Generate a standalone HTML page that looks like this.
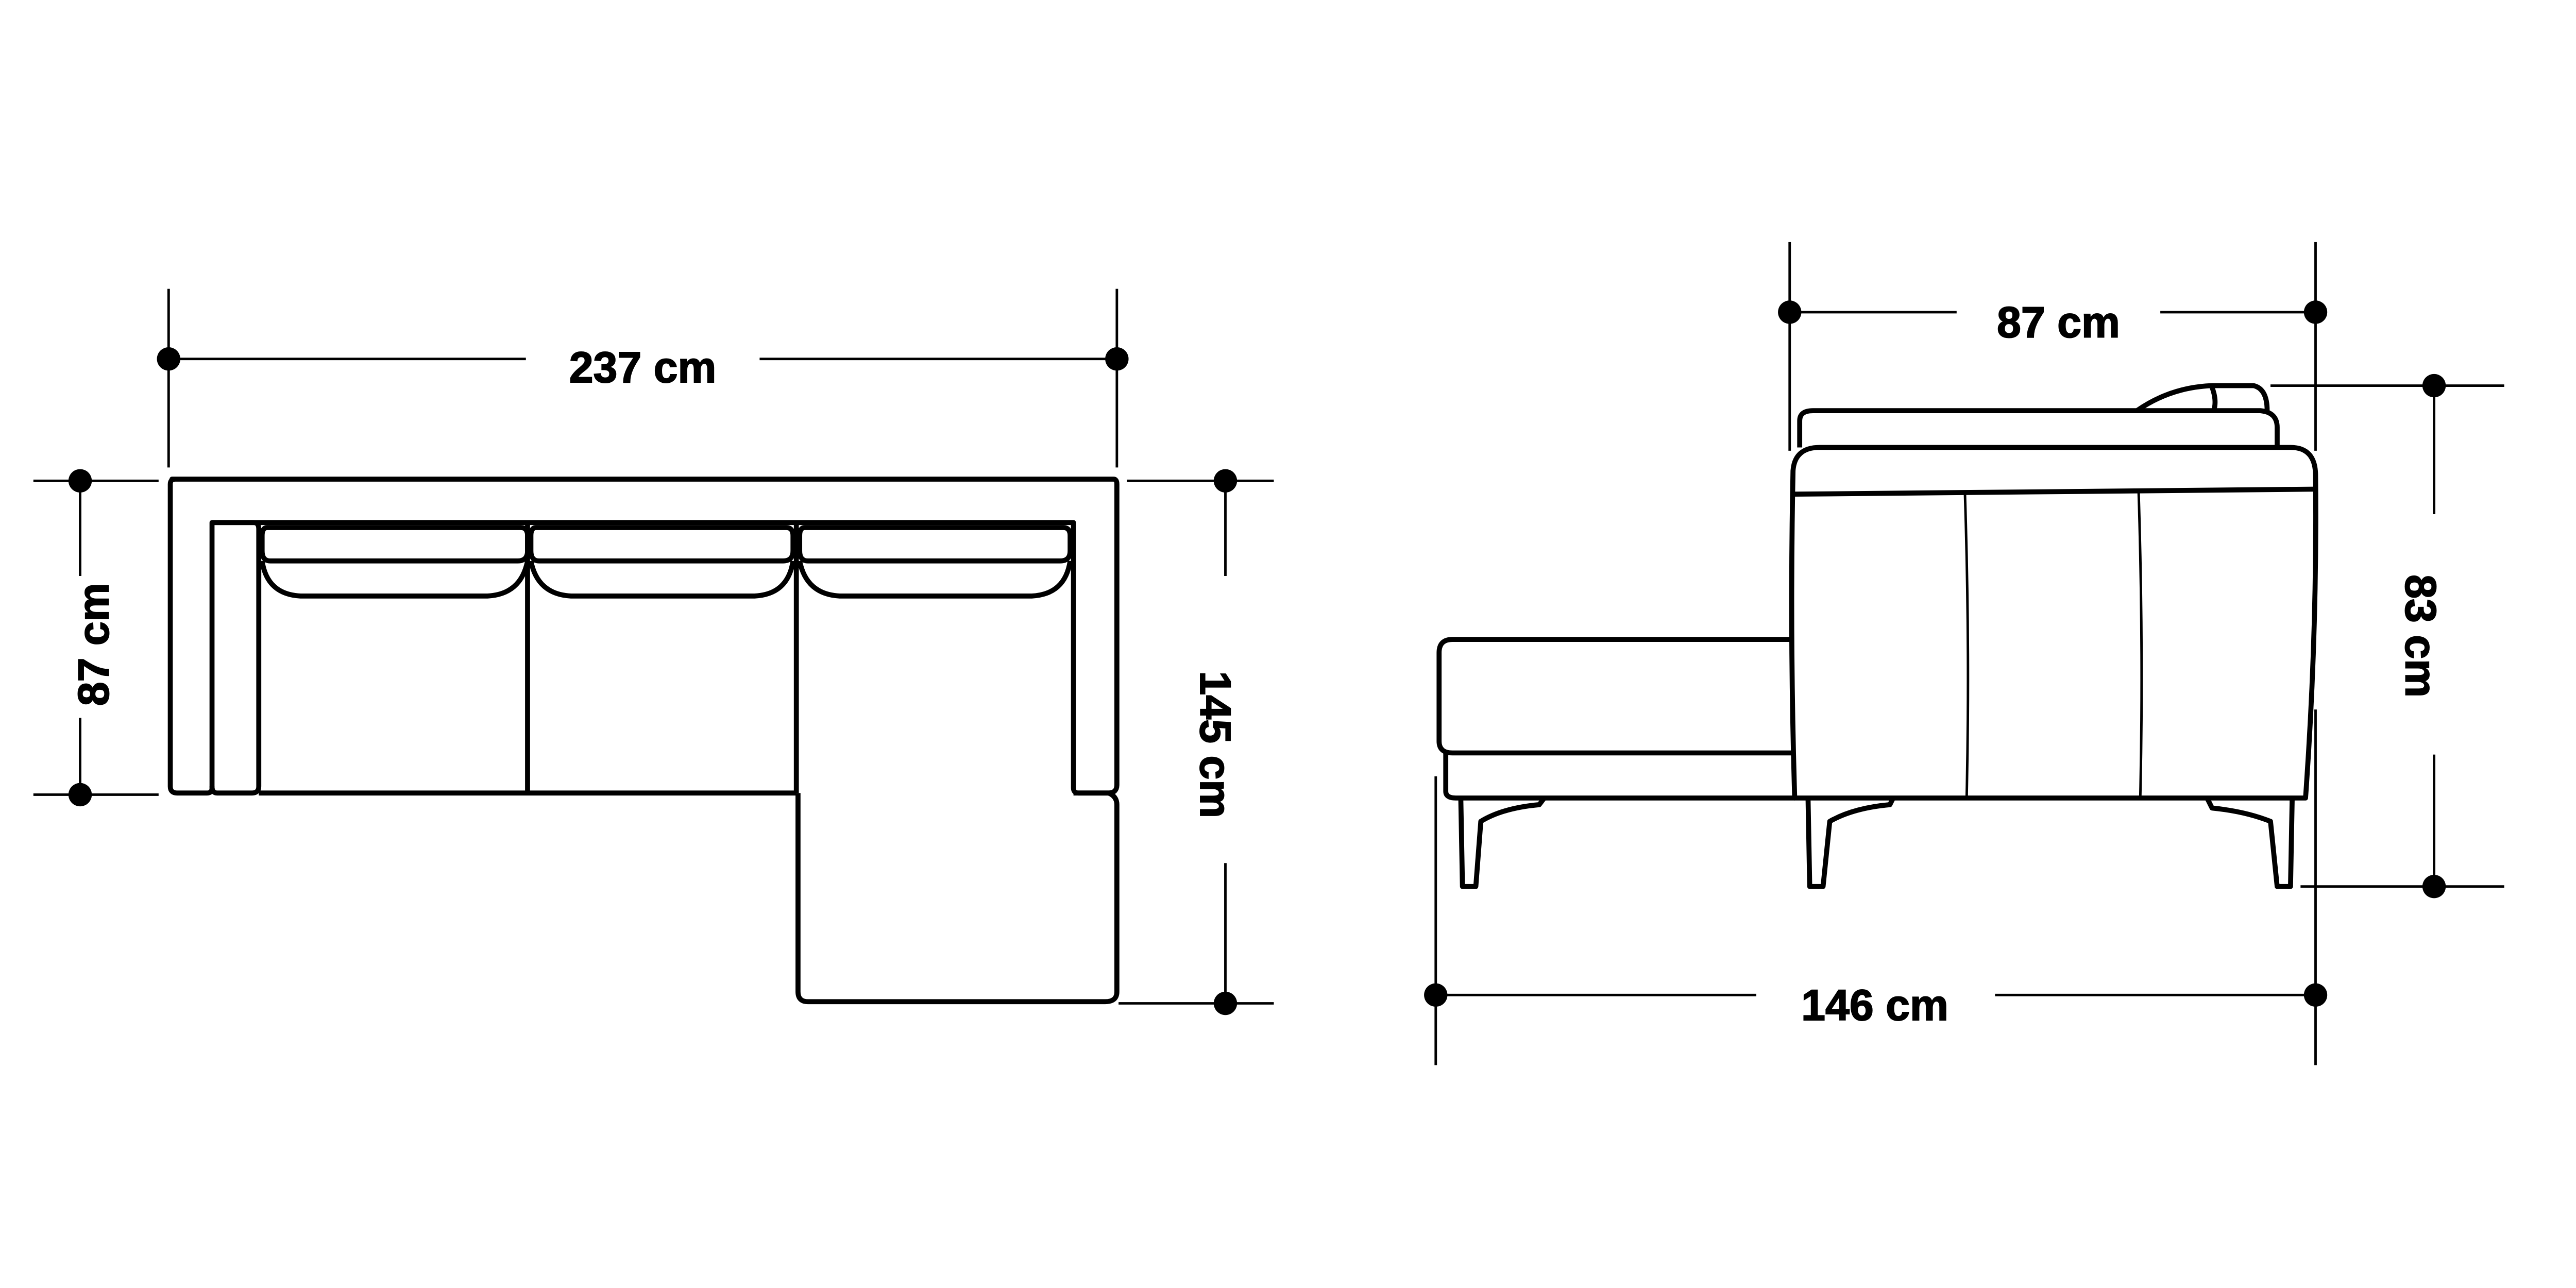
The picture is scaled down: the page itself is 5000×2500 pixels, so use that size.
<!DOCTYPE html>
<html><head><style>html,body{margin:0;padding:0;background:#fff}svg{display:block}</style></head>
<body>
<svg width="5000" height="2500" viewBox="0 0 1543 771.5" xmlns="http://www.w3.org/2000/svg">
<g fill="none" stroke="#000" stroke-width="1.5">
<line x1="101" y1="173" x2="101" y2="280"/><line x1="669" y1="173" x2="669" y2="280"/>
<line x1="101" y1="215" x2="315" y2="215"/><line x1="455" y1="215" x2="669" y2="215"/>
<line x1="20" y1="288" x2="95" y2="288"/><line x1="20" y1="476" x2="95" y2="476"/>
<line x1="48" y1="288" x2="48" y2="345"/><line x1="48" y1="430" x2="48" y2="476"/>
<line x1="675" y1="288" x2="763" y2="288"/><line x1="670" y1="601" x2="763" y2="601"/>
<line x1="734" y1="288" x2="734" y2="345"/><line x1="734" y1="517" x2="734" y2="601"/>
<line x1="1072" y1="145" x2="1072" y2="270"/><line x1="1387" y1="145" x2="1387" y2="270"/>
<line x1="1072" y1="187" x2="1172" y2="187"/><line x1="1294" y1="187" x2="1387" y2="187"/>
<line x1="1360" y1="231" x2="1500" y2="231"/><line x1="1378" y1="531" x2="1500" y2="531"/>
<line x1="1458" y1="231" x2="1458" y2="308"/><line x1="1458" y1="452" x2="1458" y2="531"/>
<line x1="860" y1="465" x2="860" y2="638"/><line x1="1387" y1="425" x2="1387" y2="638"/>
<line x1="860" y1="596" x2="1052" y2="596"/><line x1="1195" y1="596" x2="1387" y2="596"/>
</g>
<g fill="#000">
<circle cx="101" cy="215" r="7"/><circle cx="669" cy="215" r="7"/>
<circle cx="48" cy="288" r="7"/><circle cx="48" cy="476" r="7"/>
<circle cx="734" cy="288" r="7"/><circle cx="734" cy="601" r="7"/>
<circle cx="1072" cy="187" r="7"/><circle cx="1387" cy="187" r="7"/>
<circle cx="1458" cy="231" r="7"/><circle cx="1458" cy="531" r="7"/>
<circle cx="860" cy="596" r="7"/><circle cx="1387" cy="596" r="7"/>
</g>
<g font-family="Liberation Sans, sans-serif" font-weight="bold" font-size="26" text-anchor="middle" stroke="#000" stroke-width="0.6">
<text x="385" y="229">237 cm</text>
<text x="1233" y="202">87 cm</text>
<text x="1123" y="611">146 cm</text>
<text transform="translate(65,386) rotate(-90)">87 cm</text>
<text transform="translate(719,446) rotate(90)">145 cm</text>
<text transform="translate(1441,381) rotate(90)">83 cm</text>
</g>
<g fill="none" stroke="#000" stroke-width="3" stroke-linejoin="round">
<path d="M103,287 H667 Q669,287 669,290 V470 Q669,475 664,475 H646 Q643,475 643,472 V313 H127 V472 Q127,475 124,475 H106 Q102,475 102,471 V290 Q102,287 105,287 Z"/>
<path d="M127,313 H152 Q155,313 155,317 V471 Q155,475 151,475 H130 Q127,475 127,471"/>
<path d="M155,475 H316 M316,313 V475 M316,475 H477 M477,313 V475"/>
<path d="M643,475 H664 Q669,477 669,482 V594 Q669,600 662,600 H484 Q478,600 478,594 V475"/>
<path d="M160,316 H312 Q316,316 316,321 V330 Q316,336 310,336 H162 Q157,336 157,330 V321 Q157,316 160,316 Z"/>
<path d="M321,316 H471 Q475,316 475,321 V330 Q475,336 469,336 H323 Q318,336 318,330 V321 Q318,316 321,316 Z"/>
<path d="M482,316 H637 Q641,316 641,321 V330 Q641,336 635,336 H484 Q479,336 479,330 V321 Q479,316 482,316 Z"/>
<path d="M157,336 Q160,356 180,357 H292 Q312,356 316,336"/>
<path d="M318,336 Q322,356 342,357 H452 Q472,356 475,336"/>
<path d="M479,336 Q483,356 503,357 H618 Q638,356 641,336"/>
</g>
<g fill="none" stroke="#000" stroke-width="3" stroke-linejoin="round">
<path d="M1078,268 V252 Q1078,246 1086,246 H1354 Q1364,247 1364,256 V268"/>
<path d="M1280,246 Q1300,232 1325,231 H1350 Q1358,233 1358,246"/>
<path d="M1325,232 Q1328,240 1326,246"/>
<path d="M1075,478 Q1072,380 1074,282 Q1075,268 1090,268 H1372 Q1387,268 1387,285 Q1388,380 1381,478 Z"/>
<path d="M1075,296 L1387,293"/>
<path d="M1177,296 Q1180,390 1178,478 M1281,294 Q1284,390 1282,478" stroke-width="1.5"/>
<path d="M1072,383 H870 Q862,383 862,391 V444 Q862,451 870,451 H1074"/>
<path d="M866,451 V474 Q866,478 872,478 H1075"/>
<path d="M875,478 L876,531 H884 L887,492 Q900,484 922,482 L925,478"/>
<path d="M1083,478 L1084,531 H1092 L1096,492 Q1110,484 1132,482 L1134,478"/>
<path d="M1373,478 L1372,531 H1364 L1360,492 Q1345,486 1325,484 L1322,478"/>
</g>
</svg>
</body></html>
